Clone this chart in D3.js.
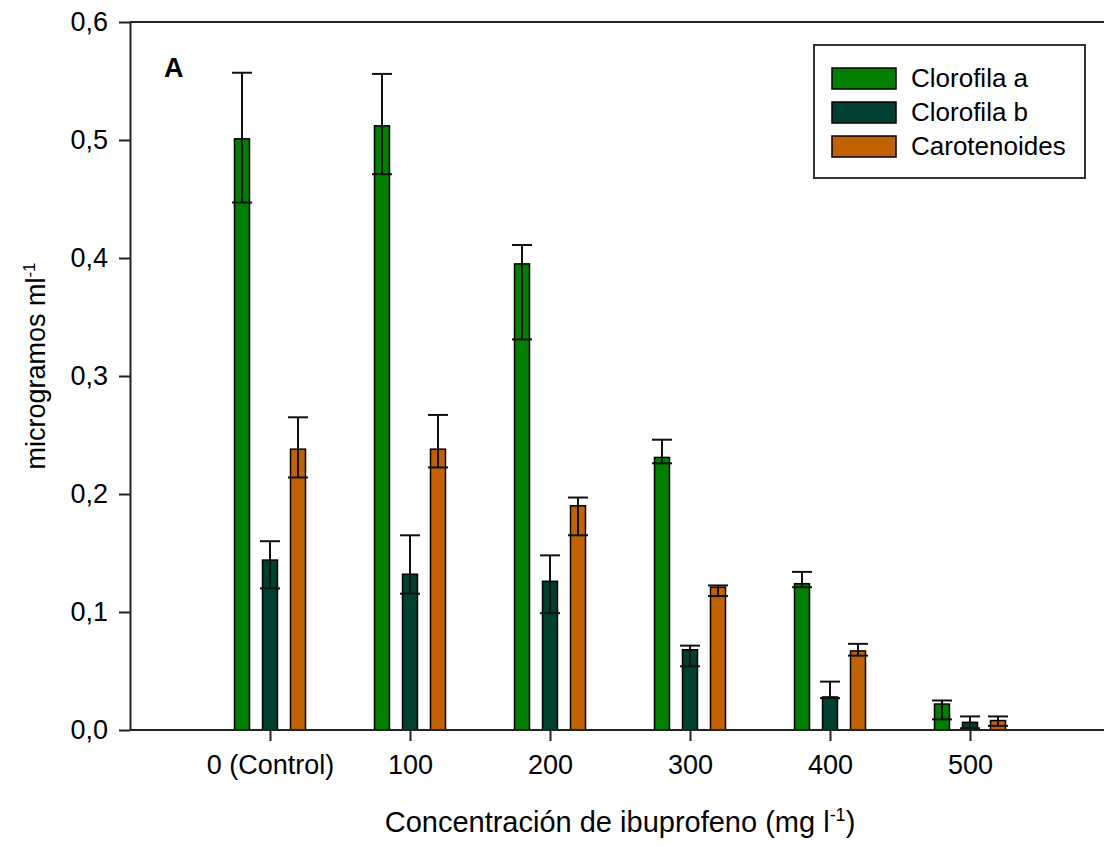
<!DOCTYPE html>
<html lang="es">
<head>
  <meta charset="UTF-8">
  <title>Pigmentos vs ibuprofeno</title>
  <script src="https://d3js.org/d3.v7.min.js"></script>
  <style>
    body { margin: 0; background: #fff; }
    svg { font-family: "Liberation Sans", Arial, sans-serif; }
  </style>
</head>
<body>
  <div id="chart"></div>
  <script>
    // datos
    const categories = ["0 (Control)", "100", "200", "300", "400", "500"];
    const seriesNames = ["Clorofila a", "Clorofila b", "Carotenoides"];

    const clorofilaA    = [0.501, 0.512, 0.395, 0.231, 0.124, 0.022];
    const clorofilaAHi  = [0.557, 0.556, 0.411, 0.246, 0.134, 0.025];
    const clorofilaALo  = [0.447, 0.471, 0.331, 0.226, 0.121, 0.009];

    const clorofilaB    = [0.144, 0.132, 0.126, 0.068, 0.028, 0.0065];
    const clorofilaBHi  = [0.160, 0.165, 0.148, 0.0715, 0.041, 0.0115];
    const clorofilaBLo  = [0.120, 0.1155, 0.099, 0.054, 0.027, 0.0015];

    const carotenoides   = [0.238, 0.238, 0.190, 0.121, 0.067, 0.008];
    const carotenoidesHi = [0.265, 0.267, 0.197, 0.1225, 0.073, 0.0115];
    const carotenoidesLo = [0.214, 0.2225, 0.165, 0.1135, 0.063, 0.0035];

    const yTicks = [0, 0.1, 0.2, 0.3, 0.4, 0.5, 0.6];

    const W = 1104, H = 847;
    const margin = {top: 22, left: 130, bottom: 117};
    const plotBottom = H - margin.bottom;

    const series = [
      {name: seriesNames[0], color: "#007f00", v: clorofilaA, hi: clorofilaAHi, lo: clorofilaALo},
      {name: seriesNames[1], color: "#013f30", v: clorofilaB, hi: clorofilaBHi, lo: clorofilaBLo},
      {name: seriesNames[2], color: "#c26100", v: carotenoides, hi: carotenoidesHi, lo: carotenoidesLo}
    ];

    const svg = d3.select("#chart").append("svg")
      .attr("width", W).attr("height", H);

    const x = d3.scalePoint()
      .domain(categories)
      .range([margin.left, 1110])
      .padding(1);

    const offset = d3.scalePoint()
      .domain(seriesNames)
      .range([-28, 28]);

    const y = d3.scaleLinear()
      .domain([0, 0.6])
      .range([plotBottom, margin.top]);

    const barW = 15;
    const fmt = d => d3.format(".1f")(d).replace(".", ",");

    // bars
    series.forEach(s => {
      svg.append("g").selectAll("rect")
        .data(categories)
        .enter().append("rect")
        .attr("x", (c, i) => x(c) + offset(s.name) - barW / 2)
        .attr("y", (c, i) => y(s.v[i]))
        .attr("width", barW)
        .attr("height", (c, i) => y(0) - y(s.v[i]))
        .attr("fill", s.color)
        .attr("stroke", "#000")
        .attr("stroke-width", 1.5);
    });

    // error bars
    series.forEach(s => {
      const g = svg.append("g").attr("stroke", "#111").attr("stroke-width", 2);
      categories.forEach((c, i) => {
        const cx = x(c) + offset(s.name);
        g.append("line").attr("x1", cx).attr("x2", cx)
          .attr("y1", y(s.hi[i])).attr("y2", y(s.lo[i]));
        g.append("line").attr("x1", cx - 10).attr("x2", cx + 10)
          .attr("y1", y(s.hi[i])).attr("y2", y(s.hi[i]));
        g.append("line").attr("x1", cx - 10).attr("x2", cx + 10)
          .attr("y1", y(s.lo[i])).attr("y2", y(s.lo[i]));
      });
    });

    // axes
    const yAxis = svg.append("g")
      .attr("transform", `translate(${margin.left},0)`)
      .call(d3.axisLeft(y).tickValues(yTicks).tickFormat(fmt)
        .tickSize(11).tickSizeOuter(0).tickPadding(11));

    const xAxis = svg.append("g")
      .attr("transform", `translate(0,${plotBottom})`)
      .call(d3.axisBottom(x).tickSize(11).tickSizeOuter(0).tickPadding(14));

    [yAxis, xAxis].forEach(a => {
      a.selectAll("path, line").attr("stroke", "#222").attr("stroke-width", 2);
      a.selectAll("text").attr("fill", "#000")
        .style("font-size", "27px");
    });
    xAxis.select(".domain").attr("d", `M${margin.left},0H${W}`);

    // top border
    svg.append("line")
      .attr("x1", margin.left).attr("x2", W)
      .attr("y1", margin.top).attr("y2", margin.top)
      .attr("stroke", "#222").attr("stroke-width", 2);

    // panel letter
    svg.append("text")
      .attr("x", 164).attr("y", 77)
      .style("font-size", "27px").style("font-weight", "bold")
      .text("A");

    // axis titles
    const xt = svg.append("text")
      .attr("x", 620).attr("y", 832)
      .attr("text-anchor", "middle")
      .style("font-size", "29px")
      .text("Concentración de ibuprofeno (mg l");
    xt.append("tspan").attr("dy", -11).style("font-size", "18px").text("-1");
    xt.append("tspan").attr("dy", 11).text(")");

    const yt = svg.append("text")
      .attr("transform", `translate(45,${(margin.top + plotBottom) / 2 - 10}) rotate(-90)`)
      .attr("text-anchor", "middle")
      .style("font-size", "27px")
      .text("microgramos ml");
    yt.append("tspan").attr("dy", -10).style("font-size", "17px").text("-1");

    // legend
    const leg = svg.append("g");
    leg.append("rect")
      .attr("x", 814).attr("y", 45).attr("width", 271).attr("height", 133)
      .attr("fill", "#fff").attr("stroke", "#333").attr("stroke-width", 2);
    series.forEach((s, i) => {
      leg.append("rect")
        .attr("x", 832).attr("y", 68 + i * 34).attr("width", 64).attr("height", 21)
        .attr("fill", s.color).attr("stroke", "#000").attr("stroke-width", 1.5);
      leg.append("text")
        .attr("x", 911).attr("y", 87 + i * 34)
        .style("font-size", "26px")
        .text(s.name);
    });
  </script>
</body>
</html>
